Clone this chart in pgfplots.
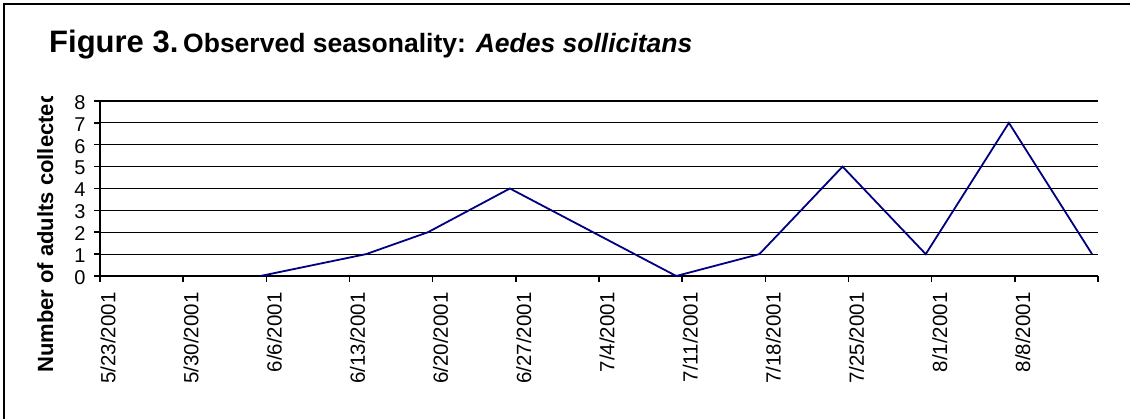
\documentclass[border=0pt]{standalone}
\usepackage{pgfplots}
\pgfplotsset{compat=1.18}
\usepackage{fontspec}
\setmainfont{Liberation Sans}
\definecolor{navyline}{RGB}{0,0,128}
\begin{document}
\begin{tikzpicture}[x=1pt,y=1pt]
\path[use as bounding box] (0,0) rectangle (1130,419);
\draw[line width=1.8pt] (4.2,0) -- (4.2,415.1) -- (1130,415.1);
\node[anchor=base west, inner sep=0pt] at (49,366) {\fontsize{31}{31}\selectfont\bfseries Figure 3.};
\node[anchor=base west, inner sep=0pt] at (183,366) {\fontsize{26.5}{26.5}\selectfont\bfseries Observed seasonality: \textit{Aedes sollicitans}};
\begin{scope}
\clip (0,0) rectangle (1130,322);
\node[rotate=90, anchor=base west, inner sep=0pt] at (53,46) {\fontsize{22}{22}\selectfont\bfseries Number of adults collected};
\end{scope}
\begin{axis}[
  at={(100pt,143pt)}, anchor=south west,
  scale only axis, width=998pt, height=175pt,
  xmin=0, xmax=84, ymin=0, ymax=8,
  axis lines=left,
  axis line style={-, line width=1.8pt, black},
  xtick={0,7,...,84},
  xticklabels={5/23/2001,5/30/2001,6/6/2001,6/13/2001,6/20/2001,6/27/2001,7/4/2001,7/11/2001,7/18/2001,7/25/2001,8/1/2001,8/8/2001,{}},
  ytick={0,1,...,8},
  tick align=outside,
  major tick length=6pt,
  tick style={line width=1.5pt, black},
  ymajorgrids,
  grid style={line width=1.1pt, black},
  /pgf/number format/assume math mode=true,
  yticklabel style={font=\fontsize{20}{20}\selectfont, xshift=-5pt, yshift=-1.5pt},
  xticklabel style={font=\fontsize{20.5}{20.5}\selectfont, rotate=90, anchor=east, yshift=-8pt, xshift=-7pt},
  clip=false,
]
\addplot[navyline, line width=1.8pt, mark=none] coordinates {
 (13.5,0) (22.4,1) (27.6,2) (34.5,4) (41.5,2) (48.5,0) (55.5,1) (62.5,5) (69.5,1) (76.5,7) (83.5,1)
};
\end{axis}
\end{tikzpicture}
\end{document}
